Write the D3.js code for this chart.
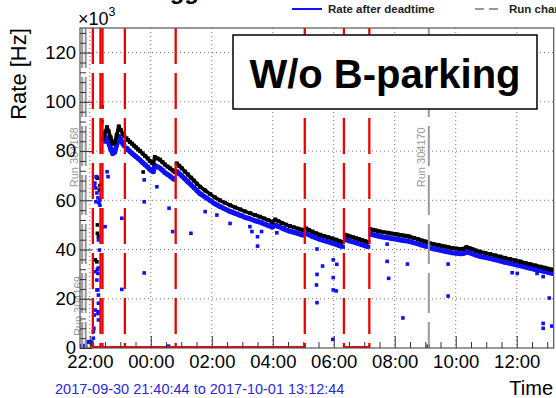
<!DOCTYPE html>
<html><head><meta charset="utf-8">
<script src="https://cdn.jsdelivr.net/npm/d3@7"></script>
<style>body{margin:0;background:#fff;}svg{display:block;font-family:"Liberation Sans",Arial,Helvetica,sans-serif;}</style>
</head><body>
<svg id="c" width="556" height="398"></svg>
<script>
// ---------------- DATA ----------------
const rangeStart = "2017-09-30 21:40:44";
const rangeEnd   = "2017-10-01 13:12:44";
const xTickLabels = ["22:00","00:00","02:00","04:00","06:00","08:00","10:00","12:00"];
const yTickValues = [0,20,40,60,80,100,120];

const sampleTimes = ["22:26","22:30","22:34","22:37","22:41","22:45","22:49","22:53","22:57","23:01","23:05","23:08",
"23:12","23:15","23:19","23:23","23:27","23:31","23:35","23:39","23:44","23:49","23:54","23:58","00:02","00:05",
"00:08","00:13","00:18","00:23","00:28","00:33","00:38","00:43","00:47","00:51","00:56","01:01","01:07","01:13",
"01:19","01:25","01:31","01:37","01:47","01:57","02:06","02:16","02:26","02:36","02:46","02:56","03:05","03:15",
"03:25","03:35","03:43","03:51","03:59","04:05","04:11","04:18","04:26","04:34","04:42","04:50","04:56","05:01",
"05:05","05:11","05:18","05:25","05:33","05:41","05:49","05:57","06:05","06:11","06:18","06:22","06:27","06:32",
"06:38","06:44","06:50","06:56","07:02","07:08","07:12","07:17","07:22","07:27","07:31","07:39","07:47","07:54",
"08:01","08:06","08:11","08:16","08:21","08:26","08:30","08:38","08:46","08:53","09:00","09:05","09:10","09:18",
"09:26","09:32","09:39","09:46","09:53","10:01","10:09","10:15","10:21","10:27","10:33","10:40","10:48","10:58",
"11:08","11:18","11:28","11:37","11:47","11:57","12:07","12:17","12:27","12:37","12:47","12:55","13:02","13:08","13:12"];

// Rate before deadtime (black), x10^3 Hz
const rateBefore = [85,87.5,89.7,88,85.5,83,83.5,86.5,90,88.5,87,86,
85.2,84.5,83.7,83,82.2,81.5,80.7,80,79,78,77,76,75.3,75,
77.6,77,76.5,75.5,74.5,73.7,73,72.2,71.5,75,74,73,71.7,70.5,
69.2,68,66.7,65.5,64,62.5,61.2,60,59,58,57.1,56.3,55.5,54.8,
54,53.3,52.6,52,51.2,52.2,51.5,50.8,50.1,49.5,49,48.5,48.1,47.8,
48.6,48,47.3,46.6,46,45.5,45,44.5,44,43.5,43,46,45.7,45.3,
45,44.6,44.2,43.8,43.4,43,48.2,48,47.8,47.5,47.3,47,46.8,46.5,
46.3,46.1,45.9,45.7,45.6,45.4,45.2,44.7,44.2,43.7,43.3,43,42.5,42.1,
41.8,41.5,41.2,40.9,40.6,40.4,40.2,40.3,41,40.6,40.1,39.6,39.1,38.6,
38.1,37.6,37.1,36.6,36.1,35.6,35.1,34.5,34,33.5,33,32.6,32.2,31.9,31.7];

// Rate after deadtime (blue), x10^3 Hz
const rateAfter = [85.5,84,85.5,83.5,81,79,79.5,82.5,86,84.5,83,82,
81.3,80.6,79.8,79.1,78.4,77.7,77,76.3,75.3,74.4,73.5,72.6,71.9,71.6,
74.2,73.6,73.1,72.2,71.2,70.5,69.8,69,68.4,71.8,70.8,69.9,68.7,67.5,
66.3,65.1,63.9,62.7,61.3,59.9,58.6,57.5,56.5,55.5,54.7,53.9,53.1,52.5,
51.7,51.1,50.4,49.8,49.1,50,49.4,48.7,48,47.4,47,46.5,46.1,45.8,
46.6,46,45.3,44.7,44.1,43.6,43.1,42.6,42.1,41.6,41.1,44.1,43.8,43.4,
43.1,42.7,42.3,41.9,41.5,41.1,46.2,46,45.8,45.5,45.3,45,44.8,44.5,
44.3,44.1,43.9,43.7,43.6,43.4,43.2,42.7,42.3,41.8,41.4,41.1,40.6,40.2,
39.9,39.6,39.3,39,38.7,38.5,38.3,38.4,39.1,38.7,38.2,37.7,37.2,36.8,
36.3,35.8,35.3,34.8,34.4,33.9,33.4,32.9,32.4,31.9,31.5,31.1,30.7,30.4,30.2];

// isolated points (rate after deadtime)
const blueExtraTimes = ["21:41","21:43","21:45","21:47","21:49","21:52","21:54","21:56","21:58","22:00","22:02","22:04","22:05",
"22:07","22:07","22:08","22:09","22:11","22:16","22:17","22:17","22:17","22:16","22:14","22:16","22:17","22:14","22:12","22:15",
"22:17","22:19","22:17","22:12","22:20","22:09","22:10","22:12","22:14","22:16","22:18","22:20","22:13","22:30","22:24","22:34",
"22:36","23:03","23:03","23:47","23:47","23:47","00:12","00:36","00:35","00:43","01:19","01:47","02:10","02:36","03:15","03:19",
"03:38","03:30","03:30","04:08","05:27","05:38","05:27","05:26","05:27","05:59","06:06","05:59","05:59","06:05","05:58","07:45",
"07:48","07:45","08:25","08:16","09:06","09:45","09:45","11:51","12:01","12:40","12:52","12:52","12:52","13:09","13:04"];
const blueExtraRates = [0.5,0.8,0.3,0.6,1,0.8,2.5,2.5,2.5,2.6,2.5,2.3,1.2,
4,6.6,8,13.4,15.4,14,11.4,14.7,18.2,23.6,27.6,30.3,21.5,23.6,31,32,
32.5,39.8,43.9,59.4,60.1,66.2,67,65,63,61,59,58,69.5,49.3,91.9,71.6,
69.6,52.7,23.8,68.3,59.4,30.5,65.5,56.8,0.5,47.3,46.6,55.4,54,50.6,49.3,47.3,
47.3,45.2,41.4,46.8,40.2,33.3,29.9,25.6,18.4,35.8,34,28.6,23.6,23.2,3.5,35.2,
28.3,42.2,34.1,12.2,0,34.1,21.1,30.6,30.3,30.3,29,10,8,8.9,20.3];

// isolated points (rate before deadtime)
const blackExtraTimes = ["22:13","22:14","22:15","22:19","22:20","22:11","22:14","22:17","22:15","22:15","22:24","23:45"];
const blackExtraRates = [69.6,69.3,69,64.2,66,35.8,35,45.2,46.6,50,98,71.5];

// fill / run change markers
const fillChangeTimes = ["22:06","22:21","22:25","23:09","00:49","05:03","06:20","07:10"];
const runChangeTimes  = ["21:45","21:52","09:07"];
const runChangeLabels = ["Run 304168","Run 304169","Run 304170"];
const zeroLineStart = ["22:06","06:20"];
const zeroLineEnd   = ["05:03","07:10"];

// ---------------- DRAW ----------------
const parseFull = d3.timeParse("%Y-%m-%d %H:%M:%S");
const tp = s => { const [h,m] = s.split(":").map(Number);
  return h >= 20 ? new Date(2017,8,30,h,m) : new Date(2017,9,1,h,m); };

const L=80, R=553.7, T=28, B=348;
const svg = d3.select("#c");
const x = d3.scaleTime().domain([parseFull(rangeStart), parseFull(rangeEnd)]).range([L,R]);
const y = d3.scaleLinear().domain([0,130]).range([B,T]);

svg.append("defs").append("clipPath").attr("id","clip")
  .append("rect").attr("x",L).attr("y",T).attr("width",R-L).attr("height",B-T);

const majorDates = xTickLabels.map(tp);
// grid
const grid = svg.append("g").attr("stroke","#777").attr("stroke-width",1).attr("stroke-dasharray","1,3");
majorDates.forEach(d => grid.append("line").attr("x1",x(d)).attr("x2",x(d)).attr("y1",T).attr("y2",B));
yTickValues.filter(v=>v>0).forEach(v => grid.append("line").attr("x1",L).attr("x2",R).attr("y1",y(v)).attr("y2",y(v)));

const plot = svg.append("g").attr("clip-path","url(#clip)");

// segments split at change markers
const breaks = fillChangeTimes.concat(runChangeTimes).map(tp);
function segments(times, vals){
  const segs=[]; let cur=[];
  times.forEach((t,i)=>{
    const d=tp(t);
    if(cur.length){ const prev=cur[cur.length-1][0];
      if(breaks.some(b=>b>prev && b<d)){ segs.push(cur); cur=[]; } }
    cur.push([d, vals[i]]);
  });
  if(cur.length) segs.push(cur);
  return segs;
}
const line = d3.line().x(d=>x(d[0])).y(d=>y(d[1]));
function drawSeries(times, vals, color, w){
  segments(times, vals).forEach(s=>{
    plot.append("path").attr("d",line(s)).attr("fill","none").attr("stroke",color)
      .attr("stroke-width",w).attr("stroke-linejoin","round");
  });
  plot.append("g").selectAll("rect").data(times.map((t,i)=>[tp(t),vals[i]])).join("rect")
    .attr("x",d=>x(d[0])-2).attr("y",d=>y(d[1])-2).attr("width",4).attr("height",4).attr("fill",color);
}
function drawPoints(times, vals, color){
  plot.append("g").selectAll("rect").data(times.map((t,i)=>[tp(t),vals[i]])).join("rect")
    .attr("x",d=>x(d[0])-1.8).attr("y",d=>Math.min(y(d[1])-1.8, B-3.6)).attr("width",3.6).attr("height",3.6).attr("fill",color);
}
drawPoints(blackExtraTimes, blackExtraRates, "#000");
drawSeries(sampleTimes, rateAfter, "#1010ff", 5);
drawSeries(sampleTimes, rateBefore, "#000", 3.6);
drawPoints(blueExtraTimes, blueExtraRates, "#1010ff");

// run change lines (grey)
runChangeTimes.forEach((t,i)=>{
  const xx = x(tp(t));
  svg.append("line").attr("x1",xx).attr("x2",xx).attr("y1",T).attr("y2",B)
    .attr("stroke","#999").attr("stroke-width",2).attr("stroke-dasharray","40,9");
  const ly = i===1 ? y(17) : y(77.5);
  svg.append("text").attr("transform",`translate(${xx-4},${ly}) rotate(-90)`)
    .attr("text-anchor","middle").attr("font-size",11).attr("fill","#999").text(runChangeLabels[i]);
});
// fill change lines (red)
fillChangeTimes.forEach(t=>{
  const xx = x(tp(t));
  svg.append("line").attr("x1",xx).attr("x2",xx).attr("y1",T).attr("y2",B)
    .attr("stroke","#ee0000").attr("stroke-width",2.3).attr("stroke-dasharray","36,9");
});
zeroLineStart.forEach((s,i)=>{
  svg.append("line").attr("x1",x(tp(s))).attr("x2",x(tp(zeroLineEnd[i]))).attr("y1",y(0)-1).attr("y2",y(0)-1)
    .attr("stroke","#ee0000").attr("stroke-width",2);
});

// frame
svg.append("rect").attr("x",L).attr("y",T).attr("width",R-L).attr("height",B-T)
  .attr("fill","none").attr("stroke","#555").attr("stroke-width",1.2);

// axes
const yAx = svg.append("g").attr("transform",`translate(${L},0)`)
  .call(d3.axisLeft(y).tickValues(yTickValues).tickSizeInner(-12).tickSizeOuter(0).tickPadding(4).tickFormat(d3.format("d")));
yAx.select(".domain").remove();
yAx.selectAll("line").attr("stroke","#333");
yAx.selectAll("text").attr("font-size",18.5).attr("fill","#000").attr("font-family","Liberation Sans, Arial, sans-serif");
const yMin = svg.append("g").attr("transform",`translate(${L},0)`)
  .call(d3.axisLeft(y).tickValues(d3.range(0,131,4).filter(v=>v%20)).tickSizeInner(-6).tickSizeOuter(0).tickFormat(""));
yMin.select(".domain").remove(); yMin.selectAll("line").attr("stroke","#333");

const xAx = svg.append("g").attr("transform",`translate(0,${B})`)
  .call(d3.axisBottom(x).tickValues(majorDates).tickSizeInner(-12).tickSizeOuter(0).tickPadding(7).tickFormat(d3.timeFormat("%H:%M")));
xAx.select(".domain").remove();
xAx.selectAll("line").attr("stroke","#333");
xAx.selectAll("text").attr("font-size",18.5).attr("fill","#000").attr("font-family","Liberation Sans, Arial, sans-serif");
const minorX = d3.timeMinute.every(30).range(x.domain()[0], x.domain()[1]).filter(d=>d.getMinutes()!==0 || d.getHours()%2!==0);
const xMin = svg.append("g").attr("transform",`translate(0,${B})`)
  .call(d3.axisBottom(x).tickValues(minorX).tickSizeInner(-6).tickSizeOuter(0).tickFormat(""));
xMin.select(".domain").remove(); xMin.selectAll("line").attr("stroke","#333");

// axis titles
svg.append("text").attr("transform","translate(26,74) rotate(-90)").attr("text-anchor","middle")
  .attr("font-size",22).attr("fill","#000").text("Rate [Hz]");
const e3 = svg.append("text").attr("x",78).attr("y",25).attr("font-size",18).attr("fill","#000");
e3.append("tspan").text("×10");
e3.append("tspan").attr("dy",-9).attr("font-size",12.5).text("3");
svg.append("text").attr("x",553).attr("y",395).attr("text-anchor","end").attr("font-size",20).attr("fill","#000").text("Time");
svg.append("text").attr("x",55).attr("y",394).attr("font-size",14.5).attr("fill","#2a2ad8")
  .text(`${rangeStart} to ${rangeEnd}`);

// title (cut off at the top, as in the reference crop)
svg.append("text").attr("x",111).attr("y",-1).attr("font-size",24).attr("font-weight","bold").attr("fill","#000").text("L1 triggers");

// legend
svg.append("line").attr("x1",292).attr("x2",322).attr("y1",9).attr("y2",9).attr("stroke","#1010ff").attr("stroke-width",2);
svg.append("text").attr("x",328).attr("y",13).attr("font-size",11.5).attr("font-weight","bold").attr("fill","#222").text("Rate after deadtime");
svg.append("line").attr("x1",475).attr("x2",503).attr("y1",9).attr("y2",9).attr("stroke","#999").attr("stroke-width",2).attr("stroke-dasharray","9,5");
svg.append("text").attr("x",509).attr("y",13).attr("font-size",11.5).attr("font-weight","bold").attr("fill","#222").text("Run change");

// annotation box
svg.append("rect").attr("x",233).attr("y",35).attr("width",304).attr("height",74)
  .attr("fill","#fff").attr("stroke","#000").attr("stroke-width",1.5);
svg.append("text").attr("x",385).attr("y",88).attr("text-anchor","middle").attr("font-size",40)
  .attr("font-weight","bold").attr("fill","#000").text("W/o B-parking");
</script>
</body></html>
